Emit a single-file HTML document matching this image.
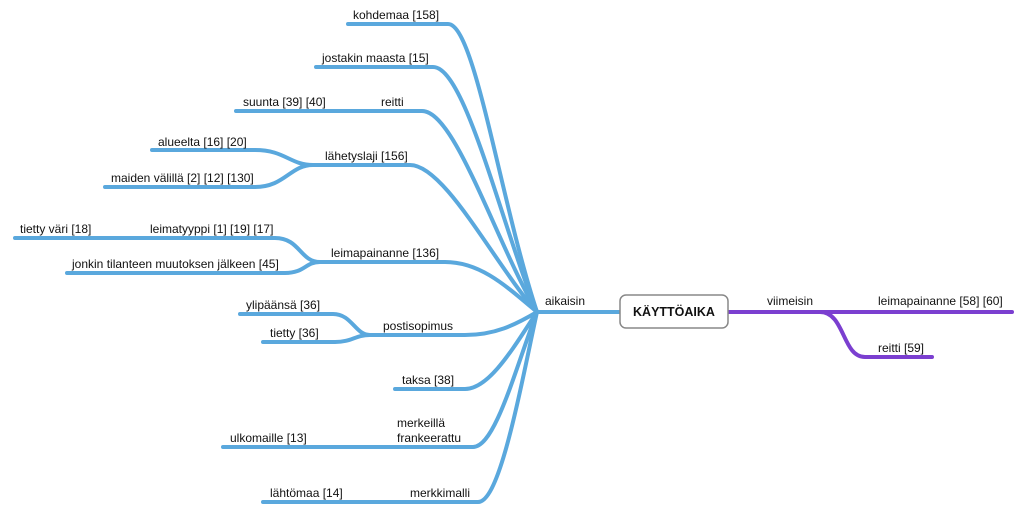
<!DOCTYPE html>
<html><head><meta charset="utf-8"><style>
body{margin:0;background:#fff}
svg{display:block}
text{font-family:"Liberation Sans",sans-serif;font-size:12px;fill:#111}
.b{fill:none;stroke:#5aa8dd;stroke-width:4;stroke-linecap:round}
.p{fill:none;stroke:#7b3fd0;stroke-width:4;stroke-linecap:round}
</style></head><body>
<svg width="1024" height="518" viewBox="0 0 1024 518">
<!-- main branches -->
<path class="b" d="M348,24 H448 C475,24 500,200 537,312"/>
<path class="b" d="M316,67 H433 C465,67 500,220 537,312"/>
<path class="b" d="M236,111 H422 C455,111 495,240 537,312"/>
<path class="b" d="M313,165 H410 C445,165 495,265 537,312"/>
<path class="b" d="M320,262 H445 C480,262 505,285 537,312"/>
<path class="b" d="M370,335 H465 C495,335 515,325 537,312"/>
<path class="b" d="M395,389 H465 C490,389 515,345 537,312"/>
<path class="b" d="M223,447 H473 C495,447 515,370 537,312"/>
<path class="b" d="M263,502 H478 C500,502 520,390 537,312"/>
<path class="b" d="M537,312 H620"/>
<!-- sub branches -->
<path class="b" d="M152,150 H255 C285,150 290,165 313,165"/>
<path class="b" d="M105,187 H255 C285,187 290,165 313,165"/>
<path class="b" d="M15,238 H275 C300,238 300,262 320,262"/>
<path class="b" d="M67,273 H285 C305,273 305,262 320,262"/>
<path class="b" d="M240,314 H333 C352,314 355,335 370,335"/>
<path class="b" d="M263,342 H335 C352,342 355,335 370,335"/>
<!-- purple -->
<path class="p" d="M728,312 H1012"/>
<path class="p" d="M820,312 C845,312 842,357 865,357 H932"/>
<!-- center box -->
<rect x="620" y="295" width="108" height="33" rx="6" fill="#fff" stroke="#888" stroke-width="1.5"/>
<text x="674" y="316" text-anchor="middle" style="font-weight:bold;font-size:12.5px">KÄYTTÖAIKA</text>
<!-- labels -->
<text x="353" y="19">kohdemaa [158]</text>
<text x="322" y="62">jostakin maasta [15]</text>
<text x="243" y="106">suunta [39] [40]</text>
<text x="381" y="106">reitti</text>
<text x="158" y="146">alueelta [16] [20]</text>
<text x="111" y="182">maiden välillä [2] [12] [130]</text>
<text x="325" y="160">lähetyslaji [156]</text>
<text x="20" y="233">tietty väri [18]</text>
<text x="150" y="233">leimatyyppi [1] [19] [17]</text>
<text x="72" y="268">jonkin tilanteen muutoksen jälkeen [45]</text>
<text x="331" y="257">leimapainanne [136]</text>
<text x="545" y="305">aikaisin</text>
<text x="246" y="309">ylipäänsä [36]</text>
<text x="270" y="337">tietty [36]</text>
<text x="383" y="330">postisopimus</text>
<text x="402" y="384">taksa [38]</text>
<text x="230" y="442">ulkomaille [13]</text>
<text x="397" y="427">merkeillä</text>
<text x="397" y="442">frankeerattu</text>
<text x="270" y="497">lähtömaa [14]</text>
<text x="410" y="497">merkkimalli</text>
<text x="767" y="305">viimeisin</text>
<text x="878" y="305">leimapainanne [58] [60]</text>
<text x="878" y="352">reitti [59]</text>
</svg>
</body></html>
